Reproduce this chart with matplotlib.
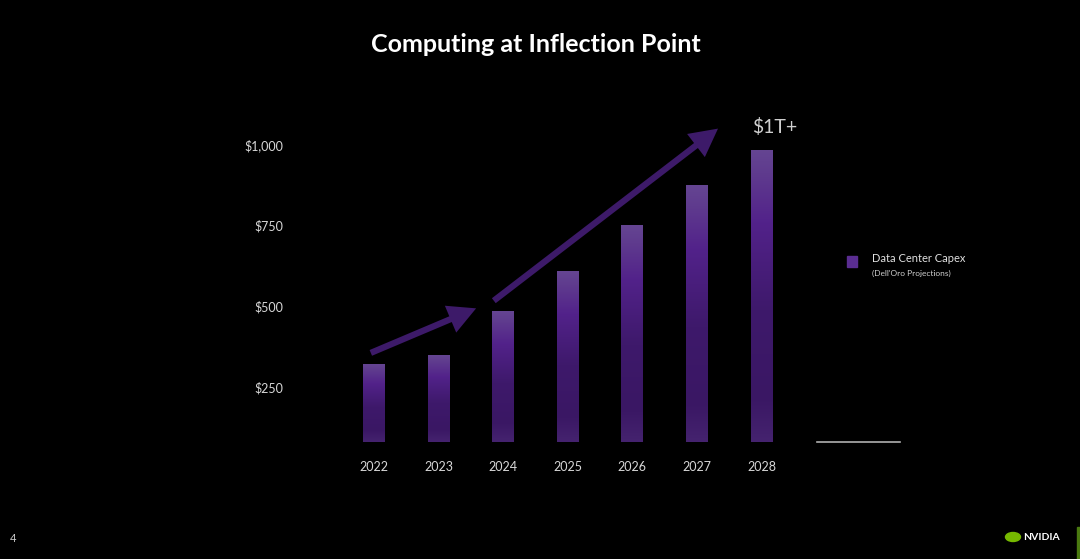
import matplotlib
matplotlib.use("Agg")
import matplotlib.pyplot as plt
import numpy as np
from matplotlib.colors import LinearSegmentedColormap
from matplotlib.patches import FancyArrowPatch, Rectangle, Ellipse
from matplotlib.lines import Line2D

plt.rcParams['font.family'] = ['Lato', 'DejaVu Sans']

# ---- data ----
years = ["2022", "2023", "2024", "2025", "2026", "2027", "2028"]
capex = [323, 350, 487, 610, 752, 874, 984]
ytick_vals = [250, 500, 750, 1000]
ytick_labels = ["$250", "$500", "$750", "$1,000"]
title = "Computing at Inflection Point"
legend_label = "Data Center Capex"
legend_sub = "(Dell'Oro Projections)"
callout = "$1T+"

W, H = 1080, 559
fig = plt.figure(figsize=(W / 100, H / 100), dpi=100, facecolor="black")

def fx(px):
    return px / W

def fy(py):
    return 1 - py / H

ax = fig.add_axes([fx(300), fy(441.7), fx(900) - fx(300), fy(100) - fy(441.7)])
ax.set_facecolor("black")
x = np.arange(len(years))
ax.set_xlim(-1.147, 8.144)
ax.set_ylim(83.5, 1137)

bars = ax.bar(x, capex, width=0.34, color="#4a2380", linewidth=0, zorder=2)

cmap = LinearSegmentedColormap.from_list(
    "barg",
    [(0.0, "#654592"), (0.08, "#5f3b8e"), (0.25, "#52228a"),
     (0.55, "#3e196b"), (0.85, "#3a1764"), (1.0, "#45236f")])
grad = np.linspace(0, 1, 256).reshape(-1, 1)
for b, v in zip(bars, capex):
    x0 = b.get_x()
    w = b.get_width()
    im = ax.imshow(grad, cmap=cmap, aspect="auto",
                   extent=[x0, x0 + w, 83.5, v], origin="upper", zorder=3)
    im.set_clip_path(b)

for s in ax.spines.values():
    s.set_visible(False)
ax.set_xticks(x)
ax.set_xticklabels(years)
ax.set_yticks(ytick_vals)
ax.set_yticklabels(ytick_labels)
ax.tick_params(axis="both", length=0, colors="#d8d8d8", labelsize=9)
ax.tick_params(axis="y", pad=12)
ax.tick_params(axis="x", pad=14)

# arrows
arrow_color = "#3d1a69"
style = "simple,head_length=2.0,head_width=2.1,tail_width=0.45"
a1 = FancyArrowPatch((-0.09, 354), (1.62, 498), arrowstyle=style,
                     mutation_scale=10, color=arrow_color, lw=0, zorder=4)
a2 = FancyArrowPatch((1.82, 513), (5.36, 1054), arrowstyle=style,
                     mutation_scale=10, color=arrow_color, lw=0, zorder=4)
ax.add_patch(a1)
ax.add_patch(a2)

# callout
fig.text(fx(752), fy(127), callout, color="#cfcfcf", fontsize=14,
         ha="left", va="center")

# title
fig.text(fx(536), fy(45), title, color="white", fontsize=18, fontweight="bold",
         ha="center", va="center")

# legend
fig.patches.append(Rectangle((fx(847), fy(267)), fx(10), 11 / H,
                             transform=fig.transFigure, color="#5a2d91"))
fig.text(fx(872), fy(259), legend_label, color="#e0e0e0", fontsize=8,
         ha="left", va="center")
fig.text(fx(872), fy(273), legend_sub, color="#d0d0d0", fontsize=6,
         ha="left", va="center")

# grey axis segment
fig.lines.append(Line2D([fx(817), fx(900)], [fy(442), fy(442)],
                        transform=fig.transFigure, color="#b0b0b0", lw=1.2))

# page number
fig.text(fx(10), fy(539), "4", color="#cccccc", fontsize=8, ha="left", va="center")

# NVIDIA logo
fig.patches.append(Ellipse((fx(1013), fy(537)), 15 / W, 9 / H,
                           transform=fig.transFigure, color="#76b900"))
fig.text(fx(1023), fy(537), "NVIDIA", color="white", fontsize=7.5,
         fontweight="bold", ha="left", va="center")
fig.patches.append(Rectangle((fx(1077), 0), fx(3), 32 / H,
                             transform=fig.transFigure, color="#4a7a10"))

fig.savefig("out.png", dpi=100, facecolor="black")
